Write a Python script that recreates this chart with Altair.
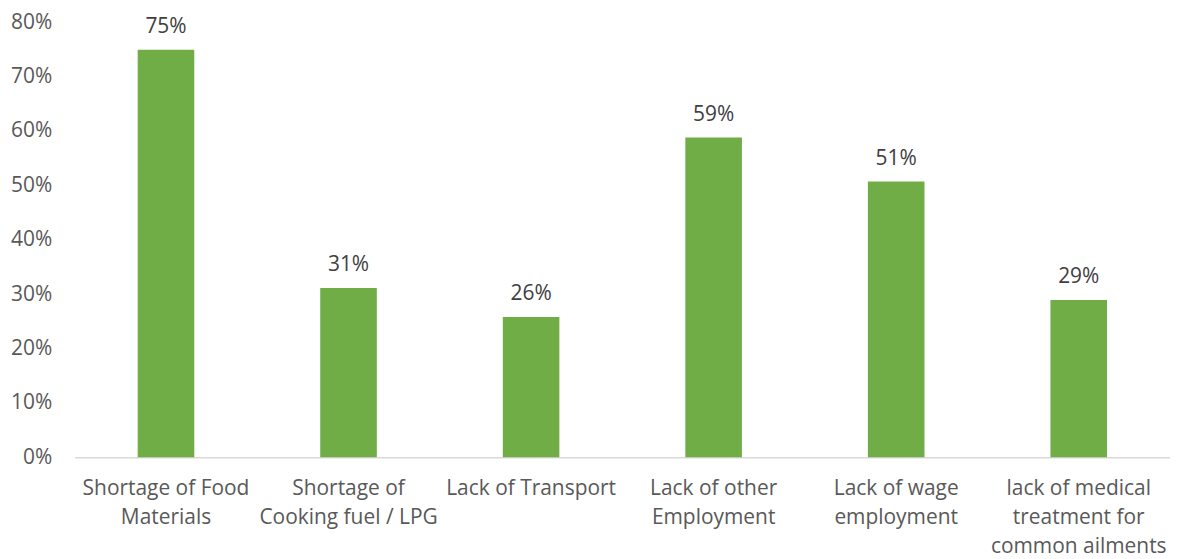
import altair as alt
import pandas as pd

categories = [
    "Shortage of Food|Materials",
    "Shortage of|Cooking fuel / LPG",
    "Lack of Transport",
    "Lack of other|Employment",
    "Lack of wage|employment",
    "lack of medical|treatment for|common ailments",
]
values = [0.749, 0.311, 0.258, 0.588, 0.507, 0.289]
y_ticks = [0, 0.1, 0.2, 0.3, 0.4, 0.5, 0.6, 0.7, 0.8]

df = pd.DataFrame({"category": categories, "value": values})

FONT = "Open Sans"
TEXT = "#595959"

base = alt.Chart(df).encode(
    x=alt.X(
        "category:N",
        sort=categories,
        title=None,
        scale=alt.Scale(paddingInner=0.69, paddingOuter=0.345),
        axis=alt.Axis(
            labelAngle=0,
            labelExpr="split(datum.label, '|')",
            labelFont=FONT,
            labelFontSize=21,
            labelColor=TEXT,
            labelLineHeight=29.5,
            labelPadding=20,
            ticks=False,
            domainColor="#D9D9D9",
            domainWidth=1.5,
            labelLimit=300,
        ),
    ),
    y=alt.Y(
        "value:Q",
        title=None,
        scale=alt.Scale(domain=[0, 0.8], nice=False),
        axis=alt.Axis(
            values=y_ticks,
            format=".0%",
            grid=False,
            domain=False,
            ticks=False,
            labelFont=FONT,
            labelFontSize=21,
            labelColor=TEXT,
            labelPadding=23,
        ),
    ),
)

bars = base.mark_bar(color="#70AD47")
labels = base.mark_text(
    baseline="alphabetic", dy=-17, font=FONT, fontSize=21, color="#404040"
).encode(text=alt.Text("value:Q", format=".0%"))

chart = (
    alt.layer(bars, labels)
    .properties(
        width=1100,
        height=437,
        padding={"left": 67, "top": 13, "right": 0, "bottom": 100},
        autosize="none",
        view=alt.ViewBackground(strokeOpacity=0, strokeWidth=0),
    )
    .configure_view(strokeOpacity=0, strokeWidth=0)
    .configure_axis(grid=False)
    .configure(background="white")
)

chart.save("out.html", embed_options={"renderer": "svg", "actions": False})
